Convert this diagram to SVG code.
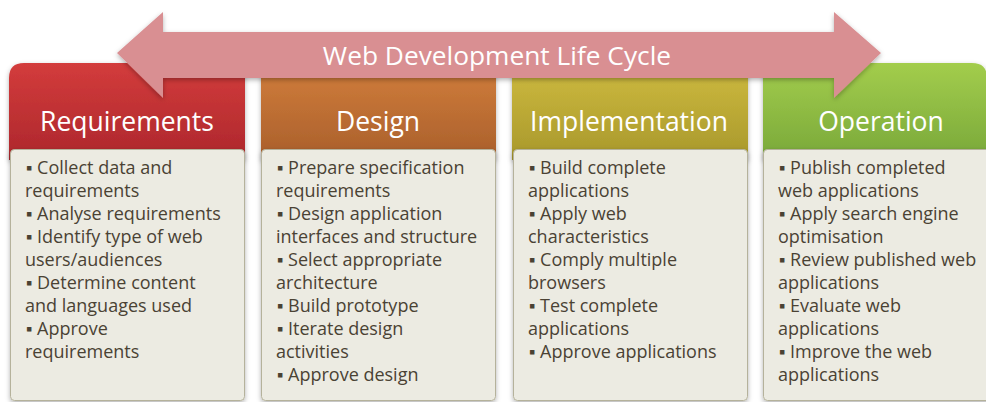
<svg xmlns="http://www.w3.org/2000/svg" width="986" height="402" viewBox="0 0 986 402">
  <defs>
    <linearGradient id="gRed" x1="0" y1="0" x2="0" y2="1">
      <stop offset="0" stop-color="#d33c3c"/>
      <stop offset="1" stop-color="#ad272c"/>
    </linearGradient>
    <linearGradient id="gOrange" x1="0" y1="0" x2="0" y2="1">
      <stop offset="0" stop-color="#d27e3c"/>
      <stop offset="1" stop-color="#a95f2b"/>
    </linearGradient>
    <linearGradient id="gOlive" x1="0" y1="0" x2="0" y2="1">
      <stop offset="0" stop-color="#cfbb40"/>
      <stop offset="1" stop-color="#a8982b"/>
    </linearGradient>
    <linearGradient id="gGreen" x1="0" y1="0" x2="0" y2="1">
      <stop offset="0" stop-color="#a3cd4c"/>
      <stop offset="1" stop-color="#79a83a"/>
    </linearGradient>
    <filter id="shadow" x="-10%" y="-10%" width="120%" height="130%">
      <feDropShadow dx="0" dy="2" stdDeviation="2.5" flood-color="#000" flood-opacity="0.3"/>
    </filter>
  </defs>
  <style>
    .hdr { font-family: "Open Sans", "Liberation Sans", sans-serif; font-size: 26.5px; fill: #ffffff; text-anchor: middle; }
    .body { fill: #ecebe2; stroke: #b5b29b; stroke-width: 1; filter: url(#shadow); }
    .txt { font-family: "Open Sans", "Liberation Sans", sans-serif; font-size: 18px; fill: #4a4234; }
    .title { font-family: "Open Sans", "Liberation Sans", sans-serif; font-size: 26.3px; fill: #ffffff; text-anchor: middle; }
  </style>
  <rect width="986" height="402" fill="#ffffff"/>

  <!-- phase headers and task lists -->
  <g id="requirements">
    <path d="M9,78 Q9,63 24,63 L245,63 L245,160 L9,160 Z" fill="url(#gRed)" filter="url(#shadow)"/>
    <text class="hdr" x="127" y="131">Requirements</text>
    <rect class="body" x="10.5" y="149.5" width="234" height="251" rx="4"/>
    <text class="txt">
      <tspan x="26" y="173.5">▪ Collect data and</tspan>
      <tspan x="25" y="196.5">requirements</tspan>
      <tspan x="26" y="219.5">▪ Analyse requirements</tspan>
      <tspan x="26" y="242.5">▪ Identify type of web</tspan>
      <tspan x="25" y="265.5">users/audiences</tspan>
      <tspan x="26" y="288.5">▪ Determine content</tspan>
      <tspan x="25" y="311.5">and languages used</tspan>
      <tspan x="26" y="334.5">▪ Approve</tspan>
      <tspan x="25" y="357.5">requirements</tspan>
    </text>
  </g>

  <g id="design">
    <rect x="261" y="63" width="235" height="97" fill="url(#gOrange)" filter="url(#shadow)"/>
    <text class="hdr" x="378" y="131">Design</text>
    <rect class="body" x="261.5" y="149.5" width="234" height="251" rx="4"/>
    <text class="txt">
      <tspan x="277" y="173.5">▪ Prepare specification</tspan>
      <tspan x="276" y="196.5">requirements</tspan>
      <tspan x="277" y="219.5">▪ Design application</tspan>
      <tspan x="276" y="242.5">interfaces and structure</tspan>
      <tspan x="277" y="265.5">▪ Select appropriate</tspan>
      <tspan x="276" y="288.5">architecture</tspan>
      <tspan x="277" y="311.5">▪ Build prototype</tspan>
      <tspan x="277" y="334.5">▪ Iterate design</tspan>
      <tspan x="276" y="357.5">activities</tspan>
      <tspan x="277" y="380.5">▪ Approve design</tspan>
    </text>
  </g>

  <g id="implementation">
    <rect x="512" y="63" width="236" height="97" fill="url(#gOlive)" filter="url(#shadow)"/>
    <text class="hdr" x="629" y="131">Implementation</text>
    <rect class="body" x="513.5" y="149.5" width="234" height="251" rx="4"/>
    <text class="txt">
      <tspan x="529" y="173.5">▪ Build complete</tspan>
      <tspan x="528" y="196.5">applications</tspan>
      <tspan x="529" y="219.5">▪ Apply web</tspan>
      <tspan x="528" y="242.5">characteristics</tspan>
      <tspan x="529" y="265.5">▪ Comply multiple</tspan>
      <tspan x="528" y="288.5">browsers</tspan>
      <tspan x="529" y="311.5">▪ Test complete</tspan>
      <tspan x="528" y="334.5">applications</tspan>
      <tspan x="529" y="357.5">▪ Approve applications</tspan>
    </text>
  </g>

  <g id="operation">
    <path d="M763,63 L972,63 Q987,63 987,78 L987,160 L763,160 Z" fill="url(#gGreen)" filter="url(#shadow)"/>
    <text class="hdr" x="881" y="131">Operation</text>
    <rect class="body" x="763.5" y="149.5" width="230" height="251" rx="4"/>
    <text class="txt">
      <tspan x="779" y="173.5">▪ Publish completed</tspan>
      <tspan x="778" y="196.5">web applications</tspan>
      <tspan x="779" y="219.5">▪ Apply search engine</tspan>
      <tspan x="778" y="242.5">optimisation</tspan>
      <tspan x="779" y="265.5">▪ Review published web</tspan>
      <tspan x="778" y="288.5">applications</tspan>
      <tspan x="779" y="311.5">▪ Evaluate web</tspan>
      <tspan x="778" y="334.5">applications</tspan>
      <tspan x="779" y="357.5">▪ Improve the web</tspan>
      <tspan x="778" y="380.5">applications</tspan>
    </text>
  </g>

  <!-- life cycle double arrow -->
  <g id="connectors">
    <polygon points="117,53 163,12 163,32 834,32 834,12 881,53 834,98 834,78 163,78 163,98" fill="#d98f92" filter="url(#shadow)"/>
    <text class="title" x="497" y="65">Web Development Life Cycle</text>
  </g>
</svg>
